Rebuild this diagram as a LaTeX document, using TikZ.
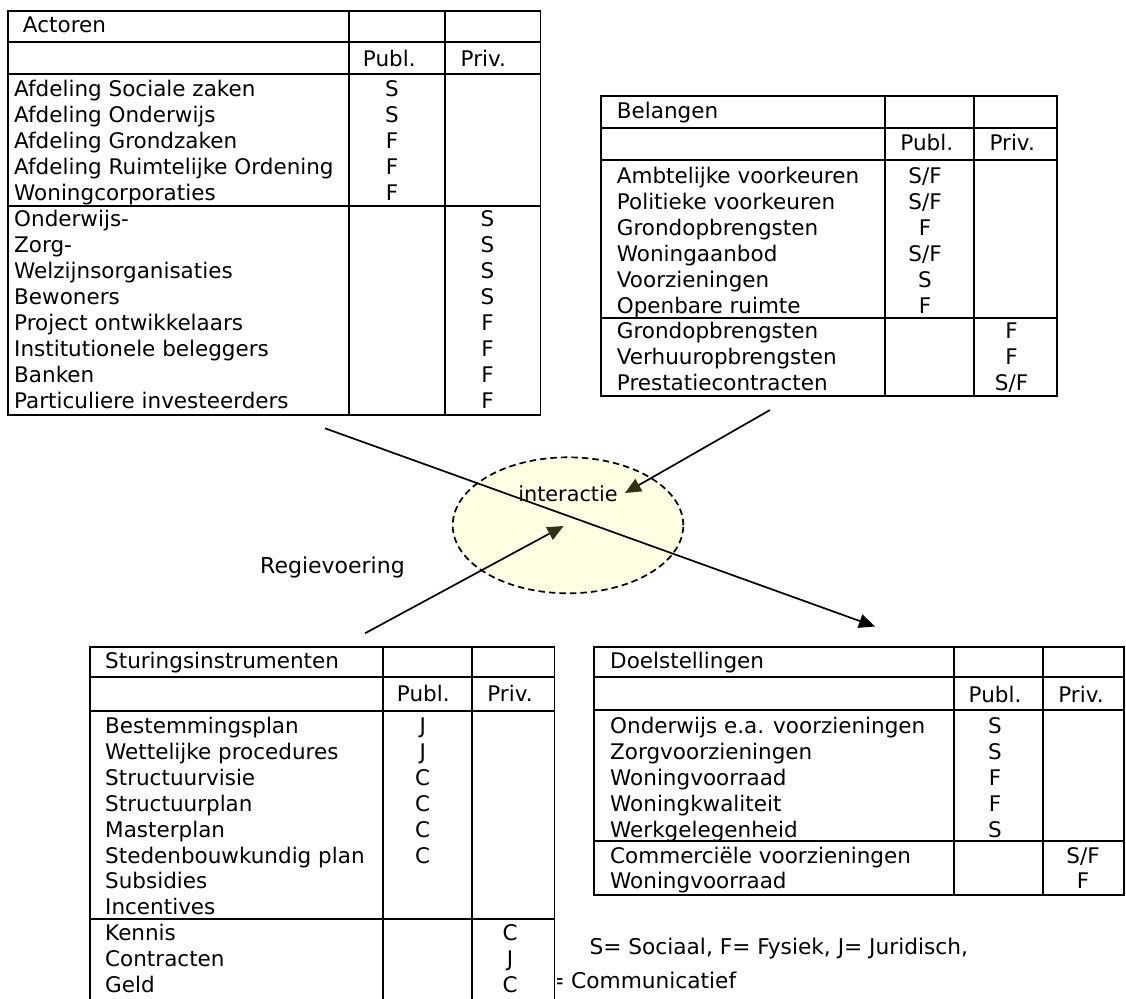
\documentclass[tikz,border=0pt]{standalone}
\usepackage{fontspec}
\setmainfont{DejaVu Sans}
\usetikzlibrary{arrows.meta,shapes.geometric}
\definecolor{ellfill}{RGB}{255,255,228}
\definecolor{headcol}{RGB}{48,48,20}
\begin{document}
\begin{tikzpicture}[x=1pt,y=-1pt,
  grid/.style={line width=1.9pt, line cap=rect},
  txt/.style={anchor=base west, inner sep=0pt, font=\fontsize{21.5}{25}\selectfont},
  val/.style={anchor=base, inner sep=0pt, font=\fontsize{21.5}{25}\selectfont},
  lbl/.style={inner sep=0pt, font=\fontsize{21.7}{26}\selectfont},
  conn/.style={line width=1.7pt},
]
\useasboundingbox (0,0) rectangle (1126,998);

% ---------------- Actoren ----------------
\draw[grid] (8.4,10.7) rectangle (540.5,415);
\draw[grid] (349.3,10.7) -- (349.3,415) (445,10.7) -- (445,415);
\draw[grid] (8.4,41.7) -- (540.5,41.7) (8.4,74) -- (540.5,74) (8.4,206) -- (540.5,206);
\node[txt] (acth) at (22.8,32.5) {Actoren};
\node[val] (actpub) at (389.3,66.8) {Publ.};
\node[val] (actpriv) at (483.3,66.8) {Priv.};
\foreach \t [count=\i from 0] in {Afdeling Sociale zaken, Afdeling Onderwijs, Afdeling Grondzaken, Afdeling Ruimtelijke Ordening, Woningcorporaties, Onderwijs-, Zorg-, Welzijnsorganisaties, Bewoners, Project ontwikkelaars, Institutionele beleggers, Banken, Particuliere investeerders}
  \node[txt] (act\i) at (14,{96.8+26*\i}) {\t};
\foreach \v [count=\i from 0] in {S,S,F,F,F}
  \node[val] (actp\i) at (392,{96.8+26*\i}) {\v};
\foreach \v [count=\i from 5] in {S,S,S,S,F,F,F,F}
  \node[val] (actq\i) at (487.5,{96.8+26*\i}) {\v};

% ---------------- Belangen ----------------
\draw[grid] (601,95.7) rectangle (1056.7,396);
\draw[grid] (884.7,95.7) -- (884.7,396) (973.9,95.7) -- (973.9,396);
\draw[grid] (601,127.7) -- (1056.7,127.7) (601,160) -- (1056.7,160) (601,318) -- (1056.7,318);
\node[txt] (belh) at (616.7,118.2) {Belangen};
\node[val] (belpub) at (926.8,150.8) {Publ.};
\node[val] (belpriv) at (1012.2,150.8) {Priv.};
\foreach \t [count=\i from 0] in {Ambtelijke voorkeuren, Politieke voorkeuren, Grondopbrengsten, Woningaanbod, Voorzieningen, Openbare ruimte, Grondopbrengsten, Verhuuropbrengsten, Prestatiecontracten}
  \node[txt] (bel\i) at (616.7,{183.5+25.9*\i}) {\t};
\foreach \v [count=\i from 0] in {S/F,S/F,F,S/F,S,F}
  \node[val] (belp\i) at (925,{183.5+25.9*\i}) {\v};
\foreach \v [count=\i from 6] in {F,F,S/F}
  \node[val] (belq\i) at (1011.5,{183.5+25.9*\i}) {\v};

% ---------------- Sturingsinstrumenten ----------------
\draw[grid] (90,1010) -- (90,646.7) -- (554.5,646.7) -- (554.5,1010);
\draw[grid] (382.7,646.7) -- (382.7,1010) (472.3,646.7) -- (472.3,1010);
\draw[grid] (90,677.3) -- (554.5,677.3) (90,710.7) -- (554.5,710.7) (90,919.3) -- (554.5,919.3);
\node[txt] (stuh) at (105,668.2) {Sturingsinstrumenten};
\node[val] (stupub) at (423.3,701.5) {Publ.};
\node[val] (stupriv) at (510,701.5) {Priv.};
\foreach \t [count=\i from 0] in {Bestemmingsplan, Wettelijke procedures, Structuurvisie, Structuurplan, Masterplan, Stedenbouwkundig plan, Subsidies, Incentives, Kennis, Contracten, Geld}
  \node[txt] (stu\i) at (105,{733.5+25.9*\i}) {\t};
\foreach \v [count=\i from 0] in {J,J,C,C,C,C}
  \node[val] (stup\i) at (422.7,{733.5+25.9*\i}) {\v};
\foreach \v [count=\i from 8] in {C,J,C}
  \node[val] (stuq\i) at (510,{733.5+25.9*\i}) {\v};

% ---------------- Doelstellingen ----------------
\draw[grid] (594,646.7) rectangle (1124,895);
\draw[grid] (954,646.7) -- (954,895) (1042.7,646.7) -- (1042.7,895);
\draw[grid] (594,677.3) -- (1124,677.3) (594,710) -- (1124,710) (594,841) -- (1124,841);
\node[txt] (doeh) at (610,668.2) {Doelstellingen};
\node[val] (doepub) at (995,702) {Publ.};
\node[val] (doepriv) at (1081,702) {Priv.};
\foreach \t [count=\i from 0] in {Onderwijs e.a. voorzieningen, Zorgvoorzieningen, Woningvoorraad, Woningkwaliteit, Werkgelegenheid, Commerciële voorzieningen, Woningvoorraad}
  \node[txt] (doe\i) at (610,{733.5+25.9*\i}) {\t};
\foreach \v [count=\i from 0] in {S,S,F,F,S}
  \node[val] (doep\i) at (995,{733.5+25.9*\i}) {\v};
\foreach \v [count=\i from 5] in {S/F,F}
  \node[val] (doeq\i) at (1083,{733.5+25.9*\i}) {\v};

% ---------------- interactie ----------------
\node[ellipse, draw, dash pattern=on 6.5pt off 4pt, line width=1.7pt, fill=ellfill,
      minimum width=230.6pt, minimum height=136pt, inner sep=0pt] (inter) at (568,525.3) {};
\node[anchor=base, inner sep=0pt, font=\fontsize{20.8}{25}\selectfont] (interlbl) at (568,501) {interactie};

\coordinate (a1s) at (325,428.3);
\coordinate (a1e) at (875,626.5);
\coordinate (a2s) at (770,410);
\coordinate (a2e) at (625,493);
\coordinate (a3s) at (365,633.3);
\coordinate (a3e) at (563.5,526);
\draw[conn, -{Triangle[length=16pt,width=14pt]}] (a1s) -- (a1e);
\draw[conn, -{Triangle[length=16pt,width=14pt,color=headcol]}] (a2s) -- (a2e);
\draw[conn, -{Triangle[length=16pt,width=14pt,color=headcol]}] (a3s) -- (a3e);

\node[anchor=base west, inner sep=0pt, font=\fontsize{22}{26}\selectfont] (regie) at (260,573.3) {Regievoering};

% ---------------- legend ----------------
\node[lbl, anchor=base west] (leg1) at (589.3,954.5) {S= Sociaal, F= Fysiek, J= Juridisch,};
\node[lbl, anchor=base west] (leg2) at (571,988) {Communicatief};
\begin{scope}
  \clip (557.5,960) rectangle (570,995);
  \node[lbl, anchor=base east] (leg2eq) at (565,988) {=};
\end{scope}
\end{tikzpicture}
\end{document}
